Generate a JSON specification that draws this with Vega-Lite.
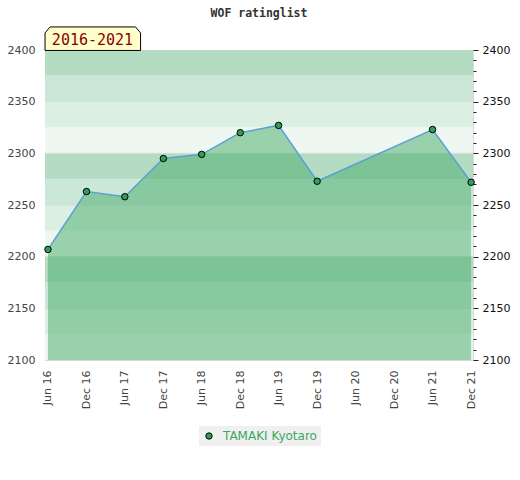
{
  "$schema": "https://vega.github.io/schema/vega-lite/v6.json",
  "width": 428,
  "height": 310,
  "autosize": "none",
  "padding": {"left": 45, "top": 50, "right": 47, "bottom": 120},
  "background": "white",
  "title": {"text": "WOF ratinglist", "font": "DejaVu Sans Mono", "fontSize": 11.5, "fontWeight": "bold", "color": "#333", "anchor": "middle", "frame": "group", "offset": 5},
  "config": {"view": {"stroke": "#d9d9d9", "strokeWidth": 1}},
  "datasets": {
    "bands": [
      {"lo": 2375, "hi": 2400, "tier": 1}, {"lo": 2350, "hi": 2375, "tier": 2},
      {"lo": 2325, "hi": 2350, "tier": 3}, {"lo": 2300, "hi": 2325, "tier": 4},
      {"lo": 2275, "hi": 2300, "tier": 1}, {"lo": 2250, "hi": 2275, "tier": 2},
      {"lo": 2225, "hi": 2250, "tier": 3}, {"lo": 2200, "hi": 2225, "tier": 4},
      {"lo": 2175, "hi": 2200, "tier": 1}, {"lo": 2150, "hi": 2175, "tier": 2},
      {"lo": 2125, "hi": 2150, "tier": 3}, {"lo": 2100, "hi": 2125, "tier": 4}
    ],
    "ratings": [
      {"date": "2016-06-01", "rating": 2207, "player": "TAMAKI Kyotaro"},
      {"date": "2016-12-01", "rating": 2263, "player": "TAMAKI Kyotaro"},
      {"date": "2017-06-01", "rating": 2258, "player": "TAMAKI Kyotaro"},
      {"date": "2017-12-01", "rating": 2295, "player": "TAMAKI Kyotaro"},
      {"date": "2018-06-01", "rating": 2299, "player": "TAMAKI Kyotaro"},
      {"date": "2018-12-01", "rating": 2320, "player": "TAMAKI Kyotaro"},
      {"date": "2019-06-01", "rating": 2327, "player": "TAMAKI Kyotaro"},
      {"date": "2019-12-01", "rating": 2273, "player": "TAMAKI Kyotaro"},
      {"date": "2021-06-01", "rating": 2323, "player": "TAMAKI Kyotaro"},
      {"date": "2021-12-01", "rating": 2272, "player": "TAMAKI Kyotaro"}
    ],
    "period": [{"label": "2016-2021"}]
  },
  "resolve": {"axis": {"y": "independent"}},
  "layer": [
    {
      "data": {"name": "bands"},
      "mark": {"type": "rect"},
      "encoding": {
        "y": {"field": "lo", "type": "quantitative", "scale": {"domain": [2100, 2400], "nice": false, "zero": false},
              "axis": {"orient": "left", "title": null, "format": "d", "values": [2100, 2150, 2200, 2250, 2300, 2350, 2400], "tickCount": 20, "ticks": false, "domain": false, "grid": false, "labelFont": "DejaVu Sans", "labelFontSize": 11, "labelColor": "#444", "labelPadding": 10}},
        "y2": {"field": "hi"},
        "fill": {"field": "tier", "type": "ordinal", "scale": {"domain": [1, 2, 3, 4], "range": ["#b3dcc3", "#cbe7d7", "#dcefe3", "#eef7f2"]}, "legend": null}
      }
    },
    {
      "data": {"name": "bands"},
      "transform": [{"filter": "datum.hi % 50 == 0 && datum.hi < 2400"}],
      "mark": {"type": "rule", "color": "#d8dcd9", "strokeWidth": 1},
      "encoding": {
        "y": {"field": "hi", "type": "quantitative", "axis": null}
      }
    },
    {
      "data": {"name": "ratings"},
      "mark": {"type": "area", "color": "#46ac68", "opacity": 0.5, "clip": true},
      "encoding": {
        "x": {"field": "date", "type": "temporal", "scale": {"type": "utc", "domain": [1463529600000, 1639094400000]},
              "axis": {"title": null, "format": "%b %y",
                "values": [1464739200000, 1480550400000, 1496275200000, 1512086400000, 1527811200000, 1543622400000, 1559347200000, 1575158400000, 1590969600000, 1606780800000, 1622505600000, 1638316800000],
                "tickCount": 30, "labelAngle": 270, "labelOverlap": false, "ticks": false, "domain": false, "grid": false, "labelFont": "DejaVu Sans", "labelFontSize": 11, "labelColor": "#444", "labelPadding": 10}},
        "y": {"field": "rating", "type": "quantitative", "axis": null},
        "y2": {"datum": 2050}
      }
    },
    {
      "data": {"name": "ratings"},
      "mark": {"type": "line", "color": "#2fa35a", "strokeWidth": 1, "clip": true},
      "transform": [{"filter": "datum.date == '2016-06-01' || datum.date == '2021-12-01'"}],
      "encoding": {
        "x": {"field": "date", "type": "temporal"},
        "detail": {"field": "date"},
        "y": {"field": "rating", "type": "quantitative", "axis": null},
        "y2": {"datum": 2050}
      }
    },
    {
      "data": {"name": "ratings"},
      "mark": {"type": "line", "color": "#5b9fd6", "strokeWidth": 1.5},
      "encoding": {
        "x": {"field": "date", "type": "temporal"},
        "y": {"field": "rating", "type": "quantitative", "axis": null}
      }
    },
    {
      "data": {"name": "ratings"},
      "mark": {"type": "point", "filled": true, "size": 42, "stroke": "#000", "strokeWidth": 1, "opacity": 1},
      "encoding": {
        "x": {"field": "date", "type": "temporal"},
        "y": {"field": "rating", "type": "quantitative",
              "axis": {"orient": "right", "title": null, "format": "d", "values": [2100, 2110, 2120, 2130, 2140, 2150, 2160, 2170, 2180, 2190, 2200, 2210, 2220, 2230, 2240, 2250, 2260, 2270, 2280, 2290, 2300, 2310, 2320, 2330, 2340, 2350, 2360, 2370, 2380, 2390, 2400],
                       "tickCount": 60, "labelExpr": "datum.value % 50 == 0 ? datum.label : ''", "labelOverlap": false, "tickSize": {"condition": {"test": "datum.value % 50 == 0", "value": 5}, "value": 3}, "tickColor": "#222", "domain": false, "grid": false, "labelFont": "DejaVu Sans", "labelFontSize": 11, "labelColor": "#111", "labelPadding": 4}},
        "color": {"field": "player", "type": "nominal", "scale": {"range": ["#2f9e57"]},
                  "legend": {"title": null, "orient": "none", "legendX": 154, "legendY": 376, "fillColor": "#f0f0f0", "padding": 4, "labelColor": "#3aa860", "labelFont": "DejaVu Sans", "labelFontSize": 12, "labelOffset": 8, "symbolType": "circle", "symbolSize": 40, "symbolStrokeColor": "#000", "symbolStrokeWidth": 1, "symbolOpacity": 1}}
      }
    },
    {
      "data": {"name": "period"},
      "mark": {"type": "point", "shape": "M-1,0.246 L-1,-0.12 L-0.895,-0.246 L0.895,-0.246 L1,-0.12 L1,0.246 Z", "size": 9130, "filled": true, "fill": "#ffffcc", "stroke": "#000", "strokeWidth": 1, "opacity": 1, "xOffset": 47.8, "yOffset": -11.3},
      "encoding": {
        "x": {"datum": 1463529600000, "type": "temporal"},
        "y": {"datum": 2400, "type": "quantitative", "axis": null}
      }
    },
    {
      "data": {"name": "period"},
      "mark": {"type": "text", "font": "DejaVu Sans Mono", "fontSize": 15, "color": "#8b0000", "align": "center", "baseline": "middle", "xOffset": 47.5, "yOffset": -10.5},
      "encoding": {
        "x": {"datum": 1463529600000, "type": "temporal"},
        "y": {"datum": 2400, "type": "quantitative", "axis": null},
        "text": {"field": "label"}
      }
    }
  ]
}
